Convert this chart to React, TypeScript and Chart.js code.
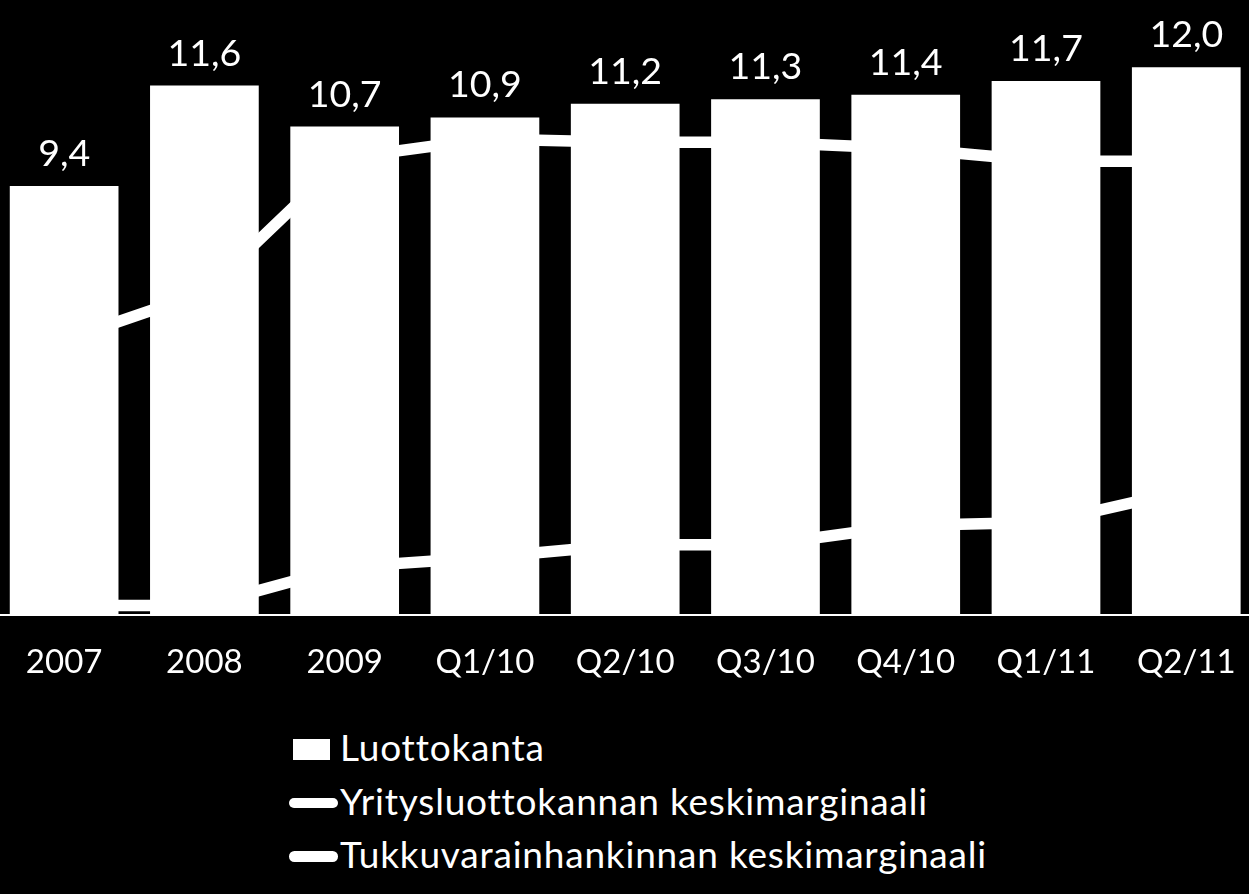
import { useEffect, useRef } from "react"
import { Chart, registerables } from "chart.js"

Chart.register(...registerables)

const categories = ["2007", "2008", "2009", "Q1/10", "Q2/10", "Q3/10", "Q4/10", "Q1/11", "Q2/11"]
const luottokanta = [9.4, 11.6, 10.7, 10.9, 11.2, 11.3, 11.4, 11.7, 12.0]
const yritysMarginaali = [0.86, 1.01, 1.43, 1.49, 1.48, 1.48, 1.46, 1.42, 1.42]
const tukkuMarginaali = [0.03, 0.03, 0.15, 0.18, 0.22, 0.22, 0.28, 0.29, 0.39]
const seriesNames = [
  "Luottokanta",
  "Yritysluottokannan keskimarginaali",
  "Tukkuvarainhankinnan keskimarginaali",
]

const FONT = "Lato, 'DejaVu Sans', sans-serif"

const fmt = (v: number) => v.toFixed(1).replace(".", ",")

// value labels above the bars
const barLabels = {
  id: "barLabels",
  afterDatasetsDraw(chart: Chart) {
    const ctx = chart.ctx
    const meta = chart.getDatasetMeta(0)
    ctx.save()
    ctx.font = `37.5px ${FONT}`
    ctx.fillStyle = "#fff"
    ctx.textAlign = "center"
    ctx.textBaseline = "alphabetic"
    meta.data.forEach((el: any, i: number) => {
      ctx.fillText(fmt(luottokanta[i]), el.x, el.y - 20)
    })
    ctx.restore()
  },
}

function MarginChart() {
  const chartRef = useRef<HTMLCanvasElement>(null)

  useEffect(() => {
    if (!chartRef.current) return
    const chart = new Chart(chartRef.current, {
      type: "bar",
      data: {
        labels: categories,
        datasets: [
          {
            type: "bar",
            label: seriesNames[0],
            data: luottokanta,
            backgroundColor: "#fff",
            borderWidth: 0,
            yAxisID: "y",
            order: 0,
            barPercentage: 0.775,
            categoryPercentage: 1,
          },
          {
            type: "line",
            label: seriesNames[1],
            data: yritysMarginaali,
            borderColor: "#fff",
            borderWidth: 11.5,
            pointRadius: 0,
            tension: 0,
            yAxisID: "y2",
            order: 1,
          },
          {
            type: "line",
            label: seriesNames[2],
            data: tukkuMarginaali,
            borderColor: "#fff",
            borderWidth: 11.5,
            pointRadius: 0,
            tension: 0,
            yAxisID: "y2",
            order: 2,
          },
        ],
      },
      options: {
        animation: false,
        responsive: true,
        maintainAspectRatio: false,
        layout: { padding: 0, autoPadding: false },
        plugins: {
          legend: { display: false },
          tooltip: { enabled: false },
        },
        scales: {
          x: {
            grid: { display: false, drawTicks: false },
            border: { display: true, color: "#fff", width: 2 },
            ticks: {
              color: "#fff",
              font: { family: FONT, size: 33, lineHeight: 2.9 },
              padding: 0,
              maxRotation: 0,
              autoSkip: false,
            },
            afterFit: (s: any) => {
              s.height = 80
            },
          },
          y: { display: false, min: 0, max: 14 },
          y2: { display: false, min: 0, max: 2 },
        },
      },
      plugins: [barLabels],
    } as any)

    return () => chart.destroy()
  }, [])

  return (
    <div style={{ position: "absolute", left: -6.4, top: -24, width: 1262.4, height: 719 }}>
      <canvas ref={chartRef} />
    </div>
  )
}

function Legend() {
  const rowTops = [727.9, 782.2, 834.5]
  const textStyle = {
    position: "absolute" as const,
    left: 340,
    font: `37px ${FONT}`,
    lineHeight: "37px",
    letterSpacing: "0.8px",
    color: "#fff",
    whiteSpace: "nowrap" as const,
  }
  return (
    <>
      <div style={{ position: "absolute", left: 293, top: 739, width: 37, height: 21, background: "#fff" }} />
      <div style={{ position: "absolute", left: 289, top: 797.6, width: 49, height: 10.7, borderRadius: 5.35, background: "#fff" }} />
      <div style={{ position: "absolute", left: 289, top: 851.3, width: 49, height: 10.7, borderRadius: 5.35, background: "#fff" }} />
      {seriesNames.map((name, i) => (
        <div key={name} style={{ ...textStyle, top: rowTops[i] }}>
          {name}
        </div>
      ))}
    </>
  )
}

export default function App() {
  return (
    <div style={{ position: "fixed", inset: 0, background: "#000", overflow: "hidden" }}>
      <MarginChart />
      <Legend />
    </div>
  )
}
